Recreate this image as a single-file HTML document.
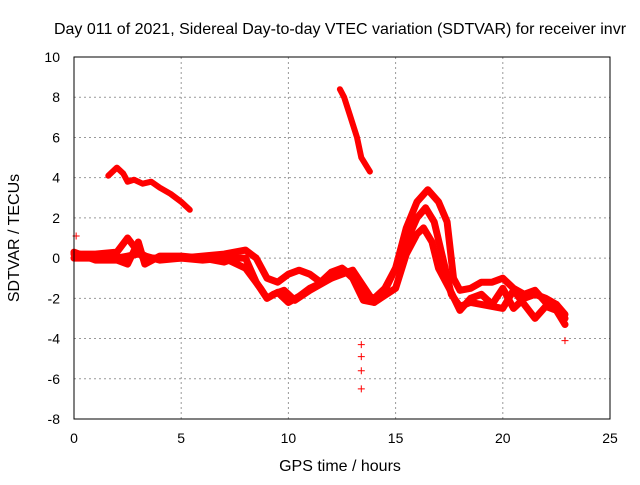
<!DOCTYPE html>
<html><head><meta charset="utf-8"><style>
body{margin:0;background:#fff}
svg text{font-family:"Liberation Sans",sans-serif;font-size:14px;fill:#000}
svg text.big{font-size:16px}
</style></head><body>
<svg id="c" width="640" height="480" viewBox="0 0 640 480">
<text class="big" x="340" y="34" text-anchor="middle">Day 011 of 2021, Sidereal Day-to-day VTEC variation (SDTVAR) for receiver invr</text>
<text class="big" x="340" y="471" text-anchor="middle">GPS time / hours</text>
<text class="big" x="19" y="238" text-anchor="middle" transform="rotate(-90 19 238)">SDTVAR / TECUs</text>
<g id="grid"></g><g id="marks"></g>
<rect x="74" y="57" width="536" height="362" fill="none" stroke="#000" stroke-width="1"/>
</svg>
<script>
const xTicks=[0,5,10,15,20,25];
const yTicks=[-8,-6,-4,-2,0,2,4,6,8,10];
const trackAx=[1.6,2.0,2.3,2.5,2.8,3.2,3.6,4.0,4.5,5.0,5.4];
const trackAy=[4.1,4.5,4.2,3.8,3.9,3.7,3.8,3.5,3.2,2.8,2.4];
const trackBx=[12.4,12.6,12.9,13.2,13.4,13.8];
const trackBy=[8.4,8.0,7.0,6.0,5.0,4.3];
const track1x=[0,1,2,2.5,3,3.5,5,7,8,8.5,9,9.5,10,10.5,11,11.5,12,12.5,13,13.5,14,14.5,15,15.5,16,16.5,17,17.4,17.7,18,18.5,19,19.5,20,20.5,21,21.5,22,22.5,22.9];
const track1y=[0.2,0.2,0.3,1.0,0.3,0,0,0.2,0.4,0,-1,-1.2,-0.8,-0.6,-0.8,-1.2,-0.7,-0.5,-0.9,-1.8,-2.0,-1.5,-0.5,1.5,2.8,3.4,2.8,1.8,-1.0,-1.6,-1.5,-1.2,-1.2,-1.0,-1.5,-1.8,-1.6,-2.2,-2.3,-2.8];
const track2x=[0,1,2,3,4,5,6,7,8,8.7,9,9.5,10,10.5,11,12,12.5,13,13.5,14,14.5,15,15.5,16,16.4,16.8,17.2,17.6,18,18.5,19,20,20.5,21,21.5,22,22.5,22.9];
const track2y=[0,0,0,0.2,-0.1,0,-0.1,0,-0.5,-1.5,-2.0,-1.7,-2.2,-1.9,-1.5,-1.0,-0.5,-1.0,-2.1,-2.2,-1.6,-0.5,0.8,2.0,2.5,1.8,0,-1.8,-2.4,-2.2,-2.3,-2.5,-1.6,-2.3,-3.0,-2.4,-2.6,-3.3];
const track3x=[0,1,2,2.5,3,3.3,4,5,6,7,7.5,8,8.5,9,9.3,9.8,10.3,11,12,12.5,13,14,15,15.5,16,16.3,16.7,17,17.5,18,18.5,19,19.5,20,20.5,21,21.5,22,22.5,22.9];
const track3y=[0.3,-0.1,-0.1,-0.3,0.8,-0.3,0.1,0.1,0,-0.2,0,0,-1.2,-2.0,-1.8,-1.6,-2.1,-1.6,-1.0,-0.8,-0.6,-2.2,-1.5,0.2,1.2,1.5,0.8,-0.5,-1.5,-2.6,-2.0,-1.8,-2.3,-1.5,-2.5,-2.0,-1.8,-2.0,-2.3,-3.0];
const outlierX=[13.4,13.4,13.4,13.4,0.1,22.9];
const outlierY=[-4.3,-4.9,-5.6,-6.5,1.1,-4.1];
const X=v=>74+v*(536/25), Y=v=>419-(v+8)*(362/18);
const NS="http://www.w3.org/2000/svg";
const grid=document.getElementById('grid'), marks=document.getElementById('marks');
function mk(tag,attrs,parent){const e=document.createElementNS(NS,tag);for(const k in attrs)e.setAttribute(k,attrs[k]);parent.appendChild(e);return e;}
xTicks.forEach(t=>{
 if(t>0&&t<25){const l=mk('line',{x1:X(t),x2:X(t),y1:57,y2:419,stroke:'#999','stroke-dasharray':'2 3'},grid);
 
 }
 const tx=mk('text',{x:X(t),y:443,'text-anchor':'middle'},grid);tx.textContent=t;
 
 
});
yTicks.forEach(t=>{
 if(t>-8&&t<10){const l=mk('line',{x1:74,x2:610,y1:Y(t),y2:Y(t),stroke:'#999','stroke-dasharray':'2 3'},grid);
 
 }
 const tx=mk('text',{x:60,y:Y(t)+5,'text-anchor':'end'},grid);tx.textContent=t;
 
 
});
function track(xs,ys,name,w){
 const p=xs.map((x,i)=>X(x).toFixed(1)+','+Y(ys[i]).toFixed(1)).join(' ');
 const l=mk('polyline',{points:p,fill:'none',stroke:'#f00','stroke-width':w,'stroke-linejoin':'round','stroke-linecap':'round'},marks);
 
 
}
track(trackAx,trackAy,'series-early-arc',6);
track(trackBx,trackBy,'series-steep-segment',6);
track(track1x,track1y,'series-track-1',7);
track(track2x,track2y,'series-track-2',7);
track(track3x,track3y,'series-track-3',7);
outlierX.forEach((x,i)=>{
 const cx=X(x),cy=Y(outlierY[i]);
 const p=mk('path',{d:`M${cx-3.5},${cy}h7M${cx},${cy-3.5}v7`,stroke:'#f00','stroke-width':1},marks);
 
 
});
</script>
</body></html>
